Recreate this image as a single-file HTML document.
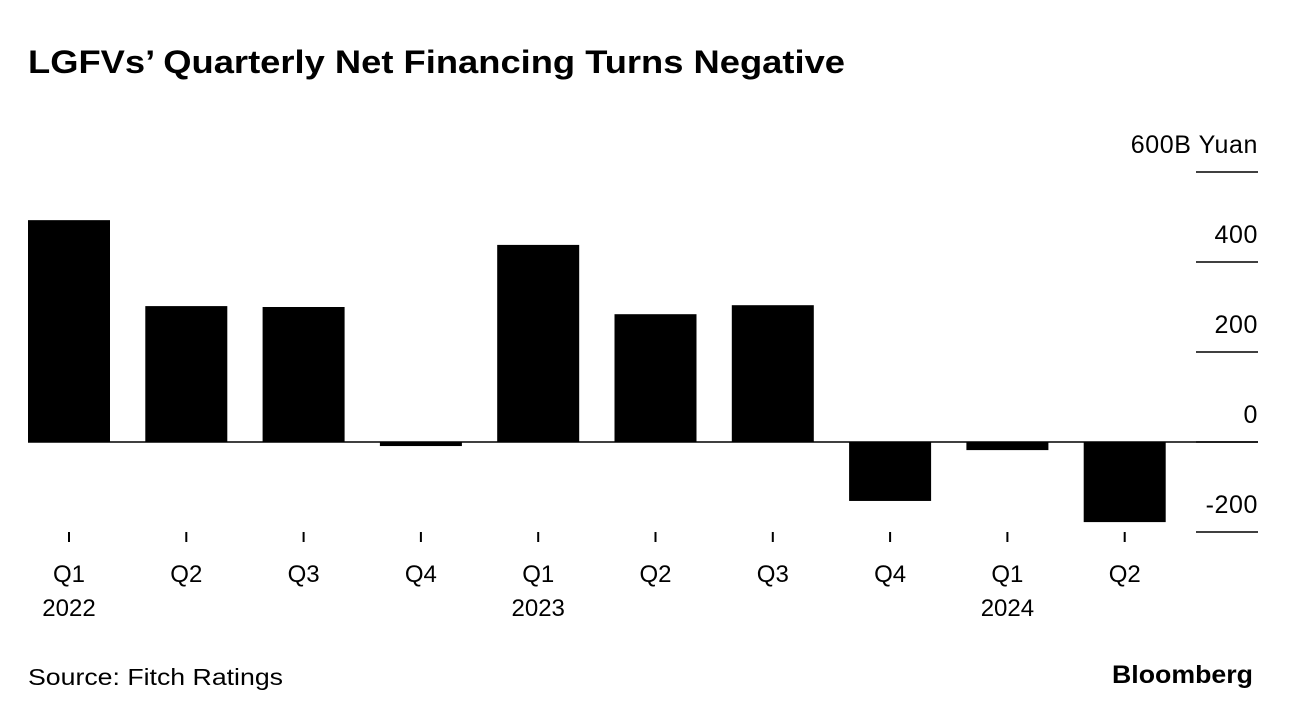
<!DOCTYPE html>
<html><head><meta charset="utf-8">
<style>
body{margin:0;background:#fff;width:1292px;height:718px;overflow:hidden;font-family:"Liberation Sans",sans-serif;}
</style></head>
<body>
<svg width="1292" height="718">
<text x="28" y="73" font-size="32" font-weight="bold" fill="#000" textLength="817" lengthAdjust="spacingAndGlyphs">LGFVs’ Quarterly Net Financing Turns Negative</text>
<g id="grid"></g>
<g id="bars"></g>
<g id="xaxis"></g>
<text x="28" y="685" font-size="23" fill="#000" textLength="255" lengthAdjust="spacingAndGlyphs">Source: Fitch Ratings</text>
<text x="1112" y="683" font-size="25" font-weight="bold" fill="#000" textLength="141" lengthAdjust="spacingAndGlyphs">Bloomberg</text>
</svg>
<script>
const quarters=["Q1","Q2","Q3","Q4","Q1","Q2","Q3","Q4","Q1","Q2"];
const years=["2022","","","","2023","","","","2024",""];
const values=[493,302,300,-9,438,284,304,-131,-18,-178];
const yTicks=[600,400,200,0,-200];
const yTickLabels=["600B Yuan","400","200","0","-200"];
const NS="http://www.w3.org/2000/svg";
const y=v=>442-v*0.45;
const xc=i=>69+i*117.3;
function mk(t,a,p){const e=document.createElementNS(NS,t);for(const k in a)e.setAttribute(k,a[k]);p.appendChild(e);return e;}
const grid=document.getElementById('grid'),bars=document.getElementById('bars'),xa=document.getElementById('xaxis');
yTicks.forEach((v,i)=>{
 const l=mk('line',{x1:1196,x2:1258,y1:y(v),y2:y(v),stroke:'#000','stroke-width':1.5},grid);
 
 
 const t=mk('text',{x:1258,y:y(v)-19,'font-size':25,'text-anchor':'end',fill:'#000','letter-spacing':0.6},grid);
 t.textContent=yTickLabels[i];
 
 
});
values.forEach((v,i)=>{
 const r=mk('rect',{x:xc(i)-41,width:82,y:Math.min(y(v),y(0)),height:Math.abs(y(v)-y(0)),fill:'#000'},bars);
 
 
 const tk=mk('line',{x1:xc(i),x2:xc(i),y1:532,y2:542,stroke:'#000','stroke-width':2},xa);
 
 
 const q=mk('text',{x:xc(i),y:582,'font-size':24,'text-anchor':'middle',fill:'#000'},xa);
 q.textContent=quarters[i];
 
 
 if(years[i]){const yt=mk('text',{x:xc(i),y:616,'font-size':24,'text-anchor':'middle',fill:'#000'},xa);
 yt.textContent=years[i];
 
 }
});
const z=mk('line',{x1:28,x2:1258,y1:y(0),y2:y(0),stroke:'#000','stroke-width':1.5},bars);


</script>
</body></html>
